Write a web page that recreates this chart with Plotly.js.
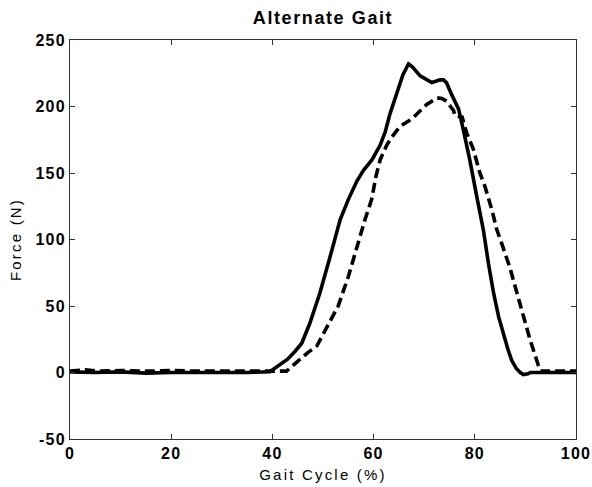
<!DOCTYPE html>
<html>
<head>
<meta charset="utf-8">
<script src="https://cdn.plot.ly/plotly-3.0.1.min.js"></script>
<style>
  html, body { margin: 0; padding: 0; background: #fff; }
  #chart { width: 592px; height: 487px; }
  .gtitle { letter-spacing: 1.6px; }
  .xtitle, .ytitle { letter-spacing: 2.2px; }
  .xtick text, .ytick text { letter-spacing: 1.2px; }
</style>
</head>
<body>
<div id="chart"></div>
<script>
// Solid curve
const solidX = [0, 5, 10, 15, 20, 25, 30, 35, 39.5, 41.5, 43, 44.5, 45.8, 47.4, 49.4, 51.4, 53.4, 55, 56.7, 58, 59.7, 61.3, 62.3, 63.2, 64.2, 64.9, 65.8, 66.9, 67.6, 69.2, 70.5, 71.5, 72.3, 73.1, 73.8, 74.4, 75.3, 76.1, 76.8, 77.7, 79, 80.4, 81.7, 82.7, 83.7, 84.7, 85.6, 86.5, 87.3, 88.2, 89, 89.6, 90.5, 91, 95, 100];
const solidY = [0.5, 0, 0.5, -0.5, 0, 0, -0.5, 0, 0.5, 6, 10, 16, 22, 37, 60, 87, 115, 130, 144, 152, 160, 171, 181, 194, 206, 215, 224, 232, 230, 223, 220, 218, 219, 220, 220, 218, 210, 203, 198, 183, 160, 132, 107, 82, 60, 42, 29, 18, 9, 3, 0, -1.5, -1, 0, 0, 0];

// Dashed curve
const dashX = [0, 3, 6, 10, 15, 20, 25, 30, 35, 40, 42.8, 45.5, 47, 48.8, 51, 53, 55, 56.7, 58.3, 59.6, 60.5, 61.3, 62.6, 63.6, 65.2, 66.9, 67.8, 69, 70.5, 71.5, 72.5, 73.5, 74.4, 75.2, 75.8, 76.1, 76.9, 77.5, 78.4, 79.7, 81, 82, 83.4, 84.3, 85.5, 87, 88.9, 90.9, 92.5, 93, 95, 100];
const dashY = [1, 2, 1, 1.5, 1, 1.5, 1, 1, 1, 1, 1, 10, 15, 20, 35, 50, 72, 95, 115, 130, 148, 160, 171, 177, 185, 189, 191.5, 196, 201.5, 204, 206.5, 206, 204, 200, 197, 193, 192.7, 192, 180, 168, 150, 140, 122, 108, 95, 78, 52, 25, 6, 1, 1, 1];

const xTicks = [0, 20, 40, 60, 80, 100];
const yTicks = [-50, 0, 50, 100, 150, 200, 250];

const titleText = 'Alternate Gait';
const xTitle = 'Gait Cycle (%)';
const yTitle = 'Force (N)';

const traces = [
  { x: solidX, y: solidY, type: 'scatter', mode: 'lines',
    line: { color: '#000', width: 3.6 }, showlegend: false, hoverinfo: 'skip' },
  { x: dashX, y: dashY, type: 'scatter', mode: 'lines',
    line: { color: '#000', width: 3.6, dash: '10px,5px' }, showlegend: false, hoverinfo: 'skip' }
];

const axisCommon = {
  showgrid: false, zeroline: false, showline: true, mirror: 'ticks',
  linecolor: '#333', linewidth: 1, ticks: 'inside', ticklen: 5, tickwidth: 1, tickcolor: '#333',
  tickfont: { family: 'Arial, Liberation Sans, sans-serif', size: 16, color: '#000', weight: 'bold' }
};

const layout = {
  width: 592, height: 487,
  margin: { l: 70, r: 16, t: 40, b: 48 },
  paper_bgcolor: '#fff', plot_bgcolor: '#fff',
  showlegend: false,
  title: { text: '<b>' + titleText + '</b>', x: 0.5, xref: 'paper', y: 1 - 18 / 487, yref: 'container', yanchor: 'middle',
           font: { family: 'Arial, Liberation Sans, sans-serif', size: 18, color: '#000' } },
  xaxis: Object.assign({}, axisCommon, {
    range: [0, 100], tickvals: xTicks, ticktext: xTicks.map(String),
    title: { text: xTitle, standoff: 8, font: { family: 'Arial, Liberation Sans, sans-serif', size: 15, color: '#000' } }
  }),
  yaxis: Object.assign({}, axisCommon, {
    range: [-50, 250], tickvals: yTicks, ticktext: yTicks.map(String),
    title: { text: yTitle, standoff: 10, font: { family: 'Arial, Liberation Sans, sans-serif', size: 15, color: '#000' } }
  })
};

Plotly.newPlot('chart', traces, layout, { staticPlot: true, displayModeBar: false });
</script>
</body>
</html>
